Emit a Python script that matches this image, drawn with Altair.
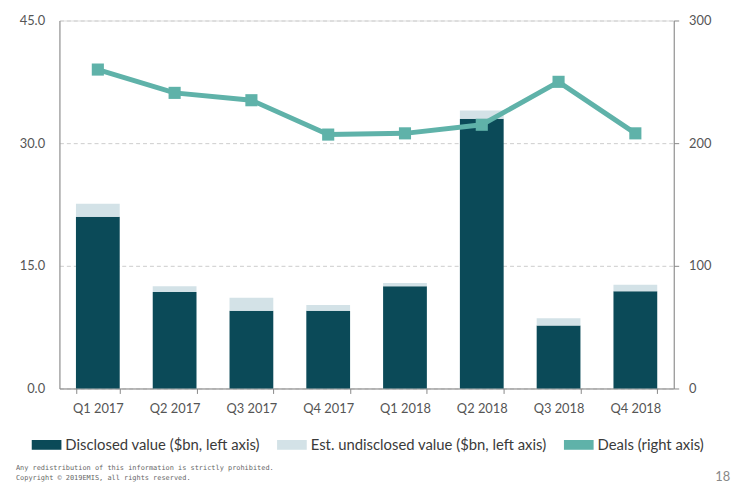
import altair as alt
import pandas as pd

quarters = ["Q1 2017", "Q2 2017", "Q3 2017", "Q4 2017",
            "Q1 2018", "Q2 2018", "Q3 2018", "Q4 2018"]
disclosed = [21.0, 11.8, 9.5, 9.5, 12.5, 33.0, 7.7, 11.9]
undisclosed = [1.6, 0.7, 1.6, 0.7, 0.4, 1.0, 0.9, 0.8]
deals = [260, 241, 235, 207, 208, 215, 250, 208]

series = ["Disclosed value ($bn, left axis)",
          "Est. undisclosed value ($bn, left axis)",
          "Deals (right axis)"]
colors = ["#0b4a58", "#d3e2e7", "#5fb2a9"]

font = "Lato"

bars_df = pd.DataFrame({
    "quarter": quarters * 2,
    "value": disclosed + undisclosed,
    "series": [series[0]] * 8 + [series[1]] * 8,
    "order": [0] * 8 + [1] * 8,
})
deals_df = pd.DataFrame({"quarter": quarters, "deals": deals})

x = alt.X("quarter:N", sort=quarters, title=None,
          scale=alt.Scale(paddingInner=0.43, paddingOuter=0.215),
          axis=alt.Axis(labelAngle=0, tickBand="extent", tickSize=5,
                        labelPadding=9, labelFontSize=13, labelColor="#555",
                        domainColor="#888", tickColor="#888", grid=False))

bars = alt.Chart(bars_df).mark_bar().encode(
    x=x,
    y=alt.Y("value:Q", title=None, stack="zero",
            scale=alt.Scale(domain=[0, 45], nice=False),
            axis=alt.Axis(values=[0, 15, 30, 45], format=".1f", ticks=False,
                          labelPadding=15, labelFontSize=13, labelColor="#555",
                          domainColor="#888", gridColor="#ccc", gridDash=[4, 3])),
    color=alt.Color("series:N", title=None,
                    scale=alt.Scale(domain=series, range=colors),
                    legend=alt.Legend(orient="none", legendX=-28, legendY=414,
                                      direction="horizontal", columns=3,
                                      symbolType="M-1,-0.33h2v0.66h-2z",
                                      symbolSize=900, symbolStrokeWidth=0,
                                      symbolOpacity=1, labelOffset=4,
                                      columnPadding=17, padding=0,
                                      labelFontSize=15, labelColor="#3a3a3a",
                                      labelLimit=400)),
    order=alt.Order("order:Q", sort="ascending"),
)

line = alt.Chart(deals_df).mark_line(
    color=colors[2], strokeWidth=5,
    point=alt.OverlayMarkDef(shape="square", size=150, filled=True,
                             color=colors[2], opacity=1),
).encode(
    x=x,
    y=alt.Y("deals:Q", title=None,
            scale=alt.Scale(domain=[0, 300], nice=False),
            axis=alt.Axis(orient="right", values=[0, 100, 200, 300],
                          format="d", tickSize=5, labelPadding=10,
                          labelFontSize=13, labelColor="#555",
                          domainColor="#888", tickColor="#888", grid=False)),
)

footer_df = pd.DataFrame({
    "t": ["Any redistribution of this information is strictly prohibited.",
          "Copyright \u00a9 2019EMIS, all rights reserved."],
    "row": [0, 1],
})
footer1 = alt.Chart(footer_df).transform_filter("datum.row == 0").mark_text(
    align="left", baseline="middle", font="DejaVu Sans Mono", fontSize=7,
    color="#666").encode(text="t:N", x=alt.value(-44), y=alt.value(452))
footer2 = alt.Chart(footer_df).transform_filter("datum.row == 1").mark_text(
    align="left", baseline="middle", font="DejaVu Sans Mono", fontSize=7,
    color="#666").encode(text="t:N", x=alt.value(-44), y=alt.value(463))
page_df = pd.DataFrame({"t": ["18"]})
page = alt.Chart(page_df).mark_text(
    align="right", baseline="middle", font=font, fontSize=13,
    color="#888").encode(text="t:N", x=alt.value(678), y=alt.value(462))

chart = alt.layer(bars, line, footer1, footer2, page).resolve_scale(
    y="independent"
).properties(
    width=621,
    height=372,
    autosize=alt.AutoSizeParams(type="none"),
    padding={"left": 52, "top": 10, "right": 69, "bottom": 101},
    background="white",
).configure_view(
    strokeWidth=0,
).configure(font=font)

chart.save("out.html", embed_options={"renderer": "svg", "actions": False})
